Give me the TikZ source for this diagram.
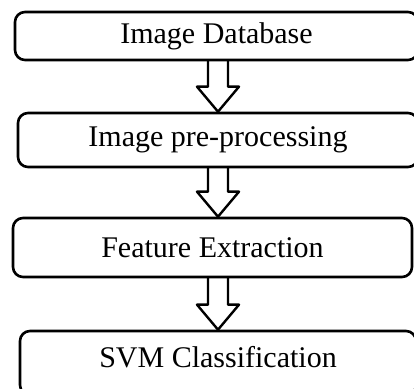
\documentclass[tikz,border=0pt]{standalone}
\usepackage{fontspec}
\setmainfont{Liberation Serif}
\usetikzlibrary{calc}

\newcommand{\hollowarrow}[2]{%
  \draw[flowline] ($(#1.south -| spine)+(-10,0)$) -- ($(#2.north -| spine)+(-10,-25)$)
    -- ++(-11,0) -- (#2.north -| spine) -- ++(21,-25) -- ++(-11,0)
    -- ($(#1.south -| spine)+(10,0)$);}

\begin{document}
\begin{tikzpicture}[x=0.5pt,y=-0.5pt,line join=round,line cap=round,
    font=\fontsize{15}{18}\selectfont,
    stage/.style={draw,line width=1.3pt,rounded corners=5pt,inner sep=0pt},
    flowline/.style={line width=1.2pt}]
  \useasboundingbox (0,0) rectangle (414,389);
  \clip (0,0) rectangle (414,389);
  \coordinate (spine) at (218,0);

  % Stages
  \node[stage,minimum width=201.5pt,minimum height=24pt] (db) at (216.5,36) {Image Database};
  \node[stage,minimum width=200pt,minimum height=27pt] (pre) at (218,140) {Image pre-processing};
  \node[stage,minimum width=199.5pt,minimum height=29.5pt] (feat) at (212.5,247.5) {Feature Extraction};
  \node[stage,minimum width=198pt,minimum height=32pt,text depth=7.5pt,text height=12.5pt] (svm) at (218,363) {SVM Classification};

  % Arrows
  \hollowarrow{db}{pre}
  \hollowarrow{pre}{feat}
  \hollowarrow{feat}{svm}
\end{tikzpicture}
\end{document}
